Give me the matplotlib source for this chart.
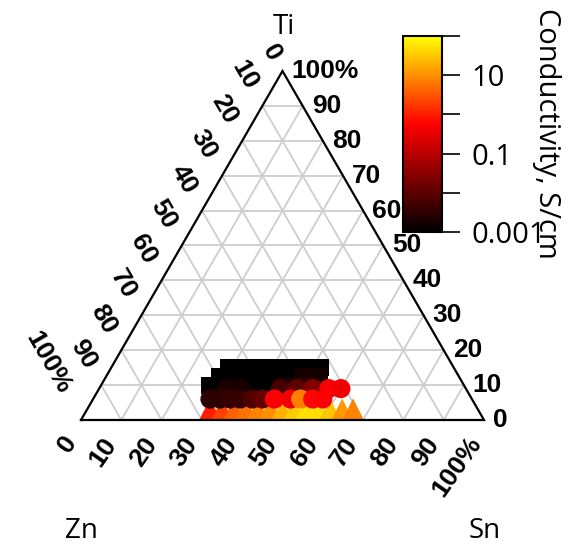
import numpy as np
import matplotlib
matplotlib.use("Agg")
import matplotlib.pyplot as plt
from matplotlib.colors import LinearSegmentedColormap, LogNorm

# compositions in at.% (Zn = 100 - Sn - Ti), conductivity in S/cm
sq_sn = [29, 32, 35, 38, 41, 44, 47, 50, 52,
         28, 31, 34, 37, 40, 43, 46, 49, 51, 53,
         27, 30, 33, 36, 39, 42, 45, 48, 51, 54]
sq_ti = [15] * 9 + [12.5] * 10 + [10] * 10
sq_cond = [0.001, 0.001, 0.001, 0.001, 0.001, 0.001, 0.001, 0.001, 0.001,
           0.001, 0.001, 0.001, 0.001, 0.001, 0.001, 0.001, 0.0015, 0.002, 0.0015,
           0.001, 0.001, 0.001, 0.001, 0.001, 0.001, 0.0015, 0.002, 0.003, 0.002]

ci_sn = [31.5, 35, 45, 49, 53, 57, 60,
         29, 31.5, 34, 36.5, 39.5, 42, 45, 49, 51.5, 54.5, 57]
ci_ti = [9] * 7 + [6] * 11
ci_cond = [0.002, 0.002, 0.006, 0.01, 0.025, 0.5, 0.4,
           0.003, 0.003, 0.004, 0.004, 0.007, 0.012, 0.5, 0.4, 7.5, 0.6, 0.5]

tr_sn = [30.5, 33.5, 36.5, 39.4, 42.4, 45.4, 48.4, 51.4, 54.3, 57.3, 60.3, 63.3, 66]
tr_ti = [3] * 13
tr_cond = [1, 2, 4, 5.5, 8, 10, 20, 35, 50, 50, 30, 12, 8]

grid_pct = [10, 20, 30, 40, 50, 60, 70, 80, 90]
axis_labels = ["0", "10", "20", "30", "40", "50", "60", "70", "80", "90", "100%"]
cbar_ticks = [1e-3, 1e-2, 1e-1, 1, 10, 100]
cbar_labels = ["0.001", "", "0.1", "", "10", ""]

H = np.sqrt(3) / 2


def tern(sn, ti):
    sn = np.asarray(sn, float) / 100
    ti = np.asarray(ti, float) / 100
    return sn + ti / 2, ti * H


W, Hpx = 572, 546
fig = plt.figure(figsize=(W / 100, Hpx / 100), dpi=100)
ax = fig.add_axes([81 / W, 126 / Hpx, 403 / W, 349 / Hpx])
ax.set_xlim(0, 1)
ax.set_ylim(0, H)
ax.axis("off")

# grid lines every 10 %
for p in grid_pct:
    t = p / 100
    ax.plot([t / 2, 1 - t / 2], [t * H, t * H], color="#cdcdcd", lw=1.3, zorder=1)
    ax.plot([t, t + (1 - t) / 2], [0, (1 - t) * H], color="#cdcdcd", lw=1.3, zorder=1)
    ax.plot([1 - t, (1 - t) / 2], [0, (1 - t) * H], color="#cdcdcd", lw=1.3, zorder=1)

ax.plot([0, 1, 0.5, 0], [0, 0, H, 0], color="black", lw=1.6, zorder=5,
        solid_joinstyle="miter", clip_on=False)

cmap = LinearSegmentedColormap.from_list(
    "cond", [(0, "#000000"), (0.55, "#ff0000"), (1, "#ffff00")])
norm = LogNorm(1e-3, 1e2)

x, y = tern(sq_sn, sq_ti)
ax.scatter(x, y, c=sq_cond, cmap=cmap, norm=norm, marker="s", s=150,
           linewidths=0, zorder=2, clip_on=False)
x, y = tern(tr_sn, tr_ti)
ax.scatter(x, y, c=tr_cond, cmap=cmap, norm=norm, marker="^", s=256,
           linewidths=0, zorder=3, clip_on=False)
x, y = tern(ci_sn, ci_ti)
sc = ax.scatter(x, y, c=ci_cond, cmap=cmap, norm=norm, marker="o", s=190,
                linewidths=0, zorder=4, clip_on=False)

# axis labels, converted from pixel offsets
px = 1 / 403
lab_font = dict(family="Liberation Sans", fontweight="bold", fontsize=19,
                clip_on=False, zorder=6)
for i, lab in enumerate(axis_labels):
    f = i / 10
    # Ti along right edge
    ex, ey = 1 - f / 2, f * H
    ax.text(ex + 9 * px, ey, lab, ha="left", va="center", **lab_font)
    # Zn along left edge
    ex, ey = (1 - f) / 2, (1 - f) * H
    d = (6 + 15 * len(lab)) * px
    ax.text(ex - 0.5 * d, ey + H * d, lab, ha="center", va="center",
            rotation=-60, rotation_mode="anchor", **lab_font)
    # Sn along bottom edge
    d = (19 + 8.75 * len(lab)) * px
    ax.text(f - 0.5 * d, -H * d, lab, ha="center", va="center",
            rotation=55, rotation_mode="anchor", **lab_font)

corner_font = dict(family="Open Sans", fontsize=20)
fig.text(284 / W, 1 - 27 / Hpx, "Ti", ha="center", va="center", **corner_font)
fig.text(81 / W, 1 - 531 / Hpx, "Zn", ha="center", va="center", **corner_font)
fig.text(485 / W, 1 - 531 / Hpx, "Sn", ha="center", va="center", **corner_font)

cax = fig.add_axes([402.7 / W, 314 / Hpx, 39.6 / W, 196 / Hpx])
cb = fig.colorbar(sc, cax=cax)
cb.outline.set_linewidth(1.5)
cb.set_ticks(cbar_ticks)
cb.set_ticklabels(cbar_labels)
cb.minorticks_off()
cax.tick_params(length=13, width=1.2, pad=8, labelsize=21)
for t in cax.get_yticklabels():
    t.set_family("Open Sans")
fig.text(546 / W, 1 - 133 / Hpx, "Conductivity, S/cm", rotation=-90,
         ha="center", va="center", family="Open Sans", fontsize=21)

fig.savefig("out.png", dpi=100)
